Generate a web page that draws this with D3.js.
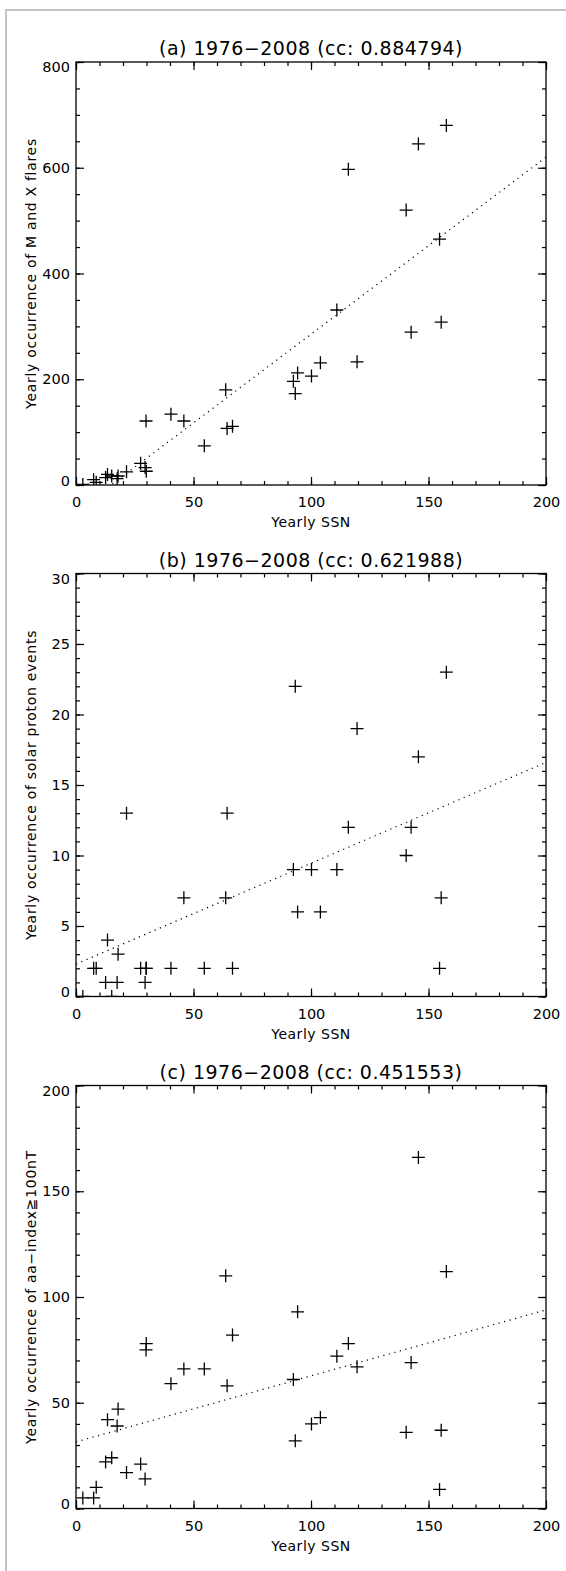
<!DOCTYPE html>
<html>
<head>
<meta charset="utf-8">
<script src="https://cdn.jsdelivr.net/npm/d3@7"></script>
<style>
  body { margin: 0; background: #fff; }
  text { font-family: "DejaVu Sans", sans-serif; fill: #000; }
</style>
</head>
<body>
<script>
// yearly values 1976-2008
var years = [1976, 1977, 1978, 1979, 1980, 1981, 1982, 1983, 1984, 1985, 1986,
    1987, 1988, 1989, 1990, 1991, 1992, 1993, 1994, 1995, 1996, 1997,
    1998, 1999, 2000, 2001, 2002, 2003, 2004, 2005, 2006, 2007, 2008];
var ssn = [12.6, 27.5, 92.5, 155.4, 154.7, 140.5, 115.9, 66.6, 45.9, 17.9, 13.4,
    29.4, 100.2, 157.6, 142.6, 145.7, 94.3, 54.6, 29.9, 17.5, 8.6, 21.5,
    64.3, 93.3, 119.6, 111.0, 104.0, 63.7, 40.4, 29.8, 15.2, 7.5, 2.9];
var flares = [14, 41, 196, 308, 465, 520, 597, 111, 121, 17, 20,
    33, 206, 680, 289, 645, 212, 74, 26, 12, 5, 25,
    107, 173, 233, 331, 231, 180, 134, 121, 17, 10, 1];
var protons = [1, 2, 9, 7, 2, 10, 12, 2, 7, 3, 4,
    1, 9, 23, 12, 17, 6, 2, 2, 1, 2, 13,
    13, 22, 19, 9, 6, 7, 2, 2, 0, 2, 0];
var aaDays = [22, 21, 61, 37, 9, 36, 78, 82, 66, 47, 42,
    14, 40, 112, 69, 166, 93, 66, 78, 39, 10, 17,
    58, 32, 67, 72, 43, 110, 59, 75, 24, 5, 5];

var panelTitles = ["(a) 1976\u22122008 (cc: 0.884794)",
    "(b) 1976\u22122008 (cc: 0.621988)",
    "(c) 1976\u22122008 (cc: 0.451553)"];
var yTitles = ["Yearly occurrence of M and X flares",
    "Yearly occurrence of solar proton events",
    "Yearly occurrence of aa\u2212index\u2267100nT"];
var xTitle = "Yearly SSN";
var xTicks = [0, 50, 100, 150, 200];
var yTicks = [[0, 200, 400, 600, 800], [0, 5, 10, 15, 20, 25, 30], [0, 50, 100, 150, 200]];
var yMinorStep = [50, 1, 10];
// dotted fit lines: y = a + b * SSN
var fitA = [-50, 2.3, 31.5];
var fitB = [3.35, 0.0715, 0.312];

var series = [flares, protons, aaDays];

var W = 566, H = 1571;
var left = 76, right = 546, plotH = 423,
    tops = [62, 573.5, 1085.5];

var svg = d3.select("body").append("svg")
    .attr("width", W)
    .attr("height", H);

// light grey page frame
svg.append("rect")
    .attr("x", 6).attr("y", 10)
    .attr("width", W + 20).attr("height", H + 20)
    .attr("fill", "none")
    .attr("stroke", "#c4c4c4")
    .attr("stroke-width", 2);

var x = d3.scaleLinear().domain([0, 200]).range([left, right]);
var xMinor = d3.range(0, 201, 10);

function drawAxis(sel, axis) {
    sel.call(axis);
    sel.select(".domain").remove();
    sel.selectAll("line").attr("stroke", "#000").attr("stroke-width", 1.2);
    sel.selectAll("text")
        .attr("font-family", "DejaVu Sans, sans-serif")
        .attr("font-size", 14.5)
        .attr("fill", "#000");
    sel.attr("font-family", null).attr("font-size", null);
    return sel;
}

series.forEach(function(vals, i) {
    var top = tops[i],
        bottom = top + plotH;
    var ymax = yTicks[i][yTicks[i].length - 1];
    var y = d3.scaleLinear().domain([0, ymax]).range([bottom, top]);
    var yMinor = d3.range(0, ymax + 0.001, yMinorStep[i]);

    svg.append("clipPath").attr("id", "clip" + i)
        .append("rect")
        .attr("x", left).attr("y", top)
        .attr("width", right - left).attr("height", plotH);

    // axes, ticks drawn inward on all four sides
    drawAxis(svg.append("g").attr("transform", "translate(0," + bottom + ")"),
        d3.axisBottom(x).tickValues(xTicks).tickSize(-8).tickPadding(12).tickFormat(d3.format("d")));
    drawAxis(svg.append("g").attr("transform", "translate(0," + bottom + ")"),
        d3.axisBottom(x).tickValues(xMinor).tickSize(-4).tickFormat(""));
    drawAxis(svg.append("g").attr("transform", "translate(0," + top + ")"),
        d3.axisTop(x).tickValues(xTicks).tickSize(-8).tickFormat(""));
    drawAxis(svg.append("g").attr("transform", "translate(0," + top + ")"),
        d3.axisTop(x).tickValues(xMinor).tickSize(-4).tickFormat(""));
    drawAxis(svg.append("g").attr("transform", "translate(" + left + ",0)"),
        d3.axisLeft(y).tickValues(yTicks[i]).tickSize(-8).tickPadding(6).tickFormat(d3.format("d")))
        .selectAll("text")
        // end labels sit inside the axis range
        .attr("dy", function(d) { return d === 0 ? "0em" : (d === ymax ? "0.68em" : "0.32em"); });
    drawAxis(svg.append("g").attr("transform", "translate(" + left + ",0)"),
        d3.axisLeft(y).tickValues(yMinor).tickSize(-4).tickFormat(""));
    drawAxis(svg.append("g").attr("transform", "translate(" + right + ",0)"),
        d3.axisRight(y).tickValues(yTicks[i]).tickSize(-8).tickFormat(""));
    drawAxis(svg.append("g").attr("transform", "translate(" + right + ",0)"),
        d3.axisRight(y).tickValues(yMinor).tickSize(-4).tickFormat(""));

    svg.append("rect")
        .attr("x", left).attr("y", top)
        .attr("width", right - left).attr("height", plotH)
        .attr("fill", "none")
        .attr("stroke", "#000")
        .attr("stroke-width", 1.3);

    var inner = svg.append("g").attr("clip-path", "url(#clip" + i + ")");

    // dotted fit line
    inner.append("path")
        .datum(x.domain())
        .attr("d", d3.line()
            .x(function(d) { return x(d); })
            .y(function(d) { return y(fitA[i] + fitB[i] * d); }))
        .attr("fill", "none")
        .attr("stroke", "#000")
        .attr("stroke-width", 1.2)
        .attr("stroke-dasharray", "1.2,4.5");

    // plus markers
    inner.selectAll("path.pt")
        .data(vals)
        .enter()
        .append("path")
        .attr("class", "pt")
        .attr("transform", function(d, k) {
            return "translate(" + x(ssn[k]) + "," + y(d) + ")";
        })
        .attr("d", "M-6.5,0H6.5M0,-6.5V6.5")
        .attr("stroke", "#000")
        .attr("stroke-width", 1.3)
        .attr("fill", "none");

    // titles
    svg.append("text")
        .attr("x", (left + right) / 2)
        .attr("y", top - 7)
        .attr("text-anchor", "middle")
        .attr("font-size", 19)
        .attr("letter-spacing", 0.5)
        .text(panelTitles[i]);

    svg.append("text")
        .attr("x", (left + right) / 2)
        .attr("y", bottom + 42)
        .attr("text-anchor", "middle")
        .attr("font-size", 14)
        .attr("letter-spacing", 0.5)
        .text(xTitle);

    svg.append("text")
        .attr("transform", "translate(36," + (top + bottom) / 2 + ") rotate(-90)")
        .attr("text-anchor", "middle")
        .attr("font-size", 14)
        .attr("letter-spacing", 0.7)
        .text(yTitles[i]);
});
</script>
</body>
</html>
